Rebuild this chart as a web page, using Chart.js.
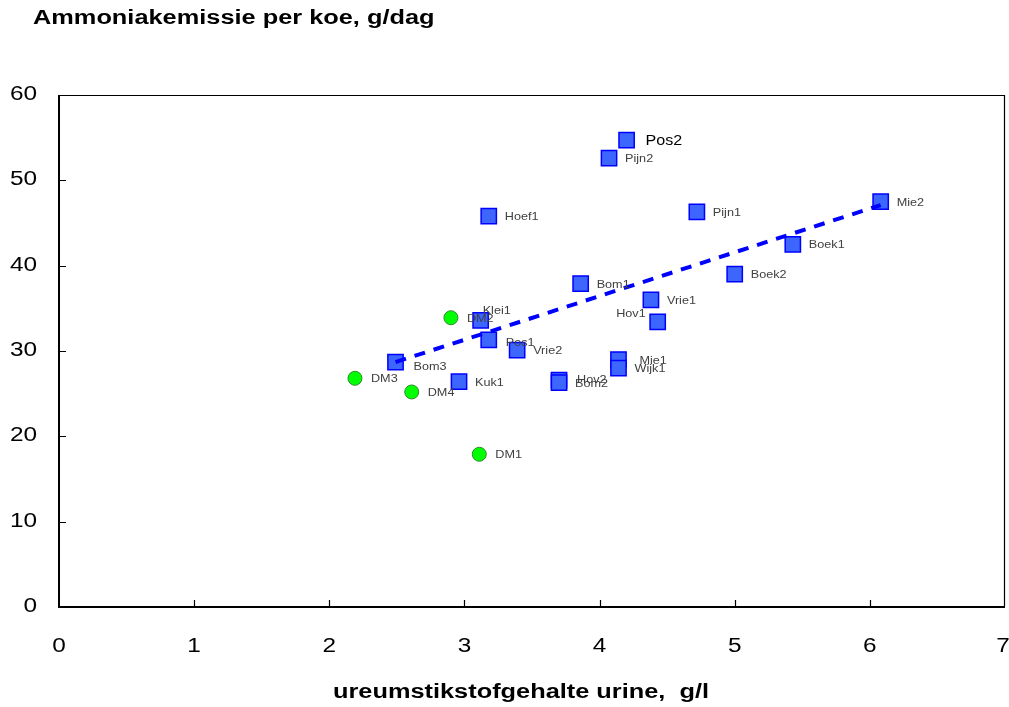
<!DOCTYPE html>
<html>
<head>
<meta charset="utf-8">
<script src="https://cdn.jsdelivr.net/npm/chart.js@4/dist/chart.umd.min.js"></script>
<style>
  html, body { margin: 0; padding: 0; background: #ffffff; overflow: hidden; }
  #wrap { width: 1009px; height: 707px; }
  #chart { display: block; }
</style>
</head>
<body>
<div id="wrap"><canvas id="chart" width="1009" height="707"></canvas></div>
<script>
// Farms measured in the field (blue squares)
const farmNames = ['Pos2', 'Pijn2', 'Hoef1', 'Pijn1', 'Mie2', 'Boek1', 'Boek2', 'Bom1', 'Vrie1', 'Hov1',
                   'Klei1', 'Pos1', 'Vrie2', 'Bom3', 'Kuk1', 'Hov2', 'Bom2', 'Mie1', 'Wijk1'];
const farmUrea = [4.20, 4.07, 3.18, 4.72, 6.08, 5.43, 5.00, 3.86, 4.38, 4.43,
                  3.12, 3.18, 3.39, 2.49, 2.96, 3.70, 3.70, 4.14, 4.14];
const farmNH3  = [54.7, 52.6, 45.8, 46.3, 47.5, 42.5, 39.0, 37.9, 36.0, 33.4,
                  33.6, 31.3, 30.1, 28.7, 26.4, 26.6, 26.3, 29.0, 28.0];

// Dairy-stall measurements (green circles)
const stallNames = ['DM1', 'DM2', 'DM3', 'DM4'];
const stallUrea  = [3.11, 2.90, 2.19, 2.61];
const stallNH3   = [17.9, 33.9, 26.8, 25.2];

// Trend through the farm points
const trendUrea = [2.49, 6.08];
const trendNH3  = [28.7, 47.1];

// Axis ticks
const xTicks = [0, 1, 2, 3, 4, 5, 6, 7];
const yTicks = [0, 10, 20, 30, 40, 50, 60];

const titleText = 'Ammoniakemissie per koe, g/dag';
const xTitleText = 'ureumstikstofgehalte urine,  g/l';

// Label placement around each marker: dx/dy in px, alignment, optional emphasis
const labelPlacement = {
  Pos2:  { dx: 19, dy: 0, big: true },
  Hov1:  { dx: -12, dy: -9, align: 'right' },
  Klei1: { dx: 2, dy: -10 },
  Pos1:  { dx: 17, dy: 2 },
  Bom3:  { dx: 18, dy: 4 },
  Mie1:  { dx: 21, dy: 0 },
  Hov2:  { dx: 18, dy: -1 },
  DM2:   { dx: 16, dy: 0 }
};

const FONT = '"Liberation Sans", Arial, Helvetica, sans-serif';

// Text drawn with a horizontal stretch factor
function stretchedText(ctx, text, x, y, font, color, align, sx) {
  ctx.save();
  ctx.font = font;
  ctx.fillStyle = color;
  ctx.textAlign = align || 'left';
  ctx.textBaseline = 'alphabetic';
  ctx.translate(x, y);
  ctx.scale(sx || 1.3, 1);
  ctx.fillText(text, 0, 0);
  ctx.restore();
}

const toPoints = (xs, ys) => xs.map((x, i) => ({ x: x, y: ys[i] }));

// Frame, inward ticks, tick labels, titles and point labels
const framePlugin = {
  id: 'frame',
  afterDatasetsDraw(chart) {
    const ctx = chart.ctx;
    const a = chart.chartArea;
    const xs = chart.scales.x, ys = chart.scales.y;
    ctx.save();
    ctx.strokeStyle = '#000000';
    // top and right edges
    ctx.lineWidth = 1.2;
    ctx.beginPath();
    ctx.moveTo(a.left, a.top + 0.5);
    ctx.lineTo(a.right - 0.5, a.top + 0.5);
    ctx.lineTo(a.right - 0.5, a.bottom);
    ctx.stroke();
    // left and bottom axes
    ctx.lineWidth = 2;
    ctx.beginPath();
    ctx.moveTo(a.left, a.top);
    ctx.lineTo(a.left, a.bottom);
    ctx.lineTo(a.right, a.bottom);
    ctx.stroke();
    // inward tick marks
    ctx.lineWidth = 1.2;
    ctx.beginPath();
    yTicks.forEach(v => {
      if (v === yTicks[0] || v === yTicks[yTicks.length - 1]) return;
      const py = Math.round(ys.getPixelForValue(v)) + 0.5;
      ctx.moveTo(a.left, py);
      ctx.lineTo(a.left + 7, py);
    });
    xTicks.forEach(v => {
      if (v === xTicks[0] || v === xTicks[xTicks.length - 1]) return;
      const px = Math.round(xs.getPixelForValue(v)) + 0.5;
      ctx.moveTo(px, a.bottom);
      ctx.lineTo(px, a.bottom - 7);
    });
    ctx.stroke();
    ctx.restore();

    // tick labels
    const tickFont = '19.5px ' + FONT;
    yTicks.forEach(v => {
      stretchedText(ctx, String(v), 37, ys.getPixelForValue(v) + 5, tickFont, '#000000', 'right', 1.25);
    });
    xTicks.forEach(v => {
      stretchedText(ctx, String(v), Math.min(xs.getPixelForValue(v), 1003), 652, tickFont, '#000000', 'center', 1.25);
    });

    // titles
    stretchedText(ctx, titleText, 33, 24, 'bold 19.5px ' + FONT, '#000000', 'left', 1.3);
    stretchedText(ctx, xTitleText, 521, 698, 'bold 19.5px ' + FONT, '#000000', 'center', 1.3);

    // point labels
    const drawLabels = (names, xsv, ysv) => {
      names.forEach((name, i) => {
        const p = labelPlacement[name] || { dx: 16, dy: 0 };
        const px = xs.getPixelForValue(xsv[i]) + p.dx;
        const py = ys.getPixelForValue(ysv[i]) + p.dy;
        const font = (p.big ? '14px ' : '11px ') + FONT;
        const color = p.big ? '#000000' : '#404040';
        stretchedText(ctx, name, px, py + (p.big ? 5 : 4), font, color, p.align || 'left', 1.15);
      });
    };
    drawLabels(farmNames, farmUrea, farmNH3);
    drawLabels(stallNames, stallUrea, stallNH3);
  }
};

new Chart(document.getElementById('chart'), {
  type: 'scatter',
  data: {
    datasets: [
      {
        label: 'trend',
        data: toPoints(trendUrea, trendNH3),
        showLine: true,
        borderColor: '#0000ff',
        borderWidth: 4,
        borderDash: [11, 9],
        borderCapStyle: 'butt',
        pointRadius: 0,
        fill: false,
        order: 0
      },
      {
        label: 'bedrijven',
        data: toPoints(farmUrea, farmNH3),
        pointStyle: 'rect',
        pointRadius: 10.8,
        pointHoverRadius: 10.8,
        backgroundColor: '#3d66ff',
        borderColor: '#0000ff',
        borderWidth: 1.5,
        order: 1
      },
      {
        label: 'DM',
        data: toPoints(stallUrea, stallNH3),
        pointStyle: 'circle',
        pointRadius: 7,
        pointHoverRadius: 7,
        backgroundColor: '#00ff00',
        borderColor: '#2e8b2e',
        borderWidth: 1,
        order: 2
      }
    ]
  },
  options: {
    responsive: false,
    animation: false,
    devicePixelRatio: 1,
    events: [],
    layout: { autoPadding: false, padding: { top: 95, right: 4, left: 0, bottom: 0 } },
    plugins: {
      legend: { display: false },
      tooltip: { enabled: false },
      title: { display: false }
    },
    scales: {
      x: {
        type: 'linear',
        min: xTicks[0],
        max: xTicks[xTicks.length - 1],
        grid: { display: false, drawTicks: false },
        border: { display: false },
        ticks: { display: false, stepSize: 1 },
        afterFit(scale) {
          scale.height = 100;
          scale.paddingLeft = 0;
          scale.paddingRight = 0;
        }
      },
      y: {
        type: 'linear',
        min: yTicks[0],
        max: yTicks[yTicks.length - 1],
        grid: { display: false, drawTicks: false },
        border: { display: false },
        ticks: { display: false, stepSize: 10 },
        afterFit(scale) {
          scale.width = 59;
          scale.paddingTop = 0;
          scale.paddingBottom = 0;
        }
      }
    }
  },
  plugins: [framePlugin]
});
</script>
</body>
</html>
